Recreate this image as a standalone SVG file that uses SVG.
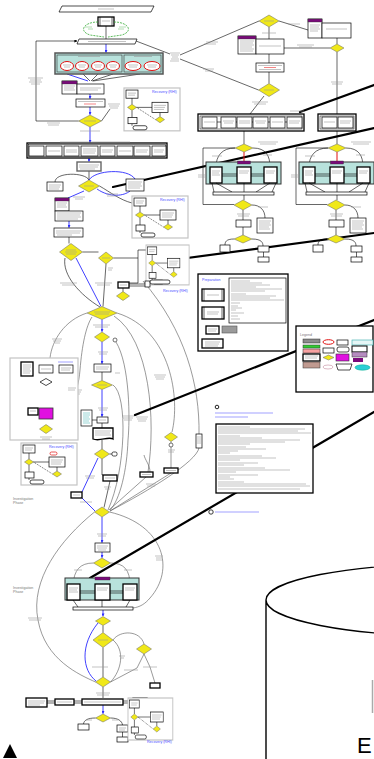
<svg xmlns="http://www.w3.org/2000/svg" xmlns:xlink="http://www.w3.org/1999/xlink" width="374" height="759" viewBox="0 0 374 759">
<style>
.b{fill:#fff;stroke:#000;stroke-width:0.7}
.bb{fill:#fff;stroke:#000;stroke-width:1.3}
.d{fill:#f0e818;stroke:#666;stroke-width:0.5}
.c{fill:none;stroke:#000;stroke-width:0.6}
.bl{fill:none;stroke:#2b2bff;stroke-width:0.9}
.g{fill:none;stroke:#555;stroke-width:0.6}
.tk{fill:none;stroke:#000;stroke-width:2.2;stroke-linecap:round}
.grp{fill:#fff;stroke:#c4c4c4;stroke-width:1.2}
.teal{fill:#b8e2dc;stroke:#333;stroke-width:1}
.pu{fill:#7a0a7a;stroke:#333;stroke-width:0.4}
.tx{fill:none;stroke:#9a9a9a;stroke-width:0.6}
.txb{fill:none;stroke:#7a7aff;stroke-width:0.7}
.red{fill:#fff;stroke:#e01010;stroke-width:1}
.t{font-family:"Liberation Sans",Arial,sans-serif}
.ttl{font-family:"Liberation Sans",Arial,sans-serif;font-size:3.6px;fill:#4a4aff}
.gt{font-family:"Liberation Sans",Arial,sans-serif;font-size:3.6px;fill:#777}
</style>
<defs>
<marker id="ah" markerWidth="3" markerHeight="3" refX="2.6" refY="1.5" orient="auto" markerUnits="userSpaceOnUse"><path d="M0,0 L3,1.5 L0,3 z" fill="#2b2bff"/></marker>
<marker id="ak" markerWidth="3" markerHeight="3" refX="2.6" refY="1.5" orient="auto" markerUnits="userSpaceOnUse"><path d="M0,0 L3,1.5 L0,3 z" fill="#000"/></marker>
<g id="rec">
<rect class="grp" x="0" y="0" width="56" height="42"/>
<rect class="b" x="2" y="2" width="12" height="8"/>
<path class="tx" d="M4,5 H12 M4,7 H11"/>
<path class="c" d="M8,10 V16 M12.5,19 H28 M8,22 V29 M8,35 V37 M36,24 V28"/>
<path class="c" d="M12.5,19 L31.5,31" stroke-dasharray="1,1"/>
<polygon class="d" points="3.5,19 8,16 12.5,19 8,22"/>
<rect class="b" x="28" y="14" width="16" height="10"/>
<path class="tx" d="M30,17 H42 M30,19 H41 M30,21 H40"/>
<rect class="b" x="4" y="29" width="9" height="6"/>
<rect class="b" x="9" y="37" width="14" height="4" rx="2"/>
<polygon class="d" points="31.5,31 36,28 40.5,31 36,34"/>
</g>
<g id="par">
<path class="c" d="M235,148 C222,148 216,156 216,167 M253,148 C266,148 270,156 270,167 M235,148 H203 V204.5 H234"/>
<path d="M244,152 V161" stroke="#e01010" stroke-width="1" fill="none"/>
<rect class="teal" x="206" y="162" width="75" height="22"/>
<rect class="pu" x="237.5" y="161" width="13" height="3"/>
<path class="c" d="M222,174 H237 M222,176 H237 M251,174 H264 M251,176 H264"/>
<rect class="bb" x="210" y="167" width="12" height="16"/>
<rect class="bb" x="237" y="167" width="14" height="16"/>
<rect class="bb" x="264" y="167" width="13" height="16"/>
<path class="tx" d="M212,171 H220 M212,173 H219 M212,175 H220 M239,171 H249 M239,173 H248 M266,171 H275 M266,173 H274"/>
<path class="c" d="M212,183 L214,192 M216,183 L232,192 M244,183 V192 M270,183 L256,192 M276,183 L272,192"/>
<rect class="b" x="213" y="192" width="61" height="3"/>
<path class="c" d="M244,195 V200 M252,205 C260,205 265,210 265,218 M243,210 V220 M243,227 V235 M234,239 C226,239 225,242 225,245 M252,239 C262,239 263,243 263,246 M263.5,252 V257"/>
<polygon class="d" points="235,148 244,144 253,148 244,152"/>
<polygon class="d" points="234,205 243,200 252,205 243,210"/>
<polygon class="d" points="234,239 243,235 252,239 243,243"/>
<rect class="b" x="257" y="218" width="16" height="15"/>
<path class="tx" d="M259,221 H271 M259,223 H270 M259,225 H271 M259,227 H269 M259,229 H270"/>
<rect class="b" x="236" y="220" width="15" height="7"/>
<rect class="b" x="220" y="245" width="10" height="7"/>
<rect class="b" x="258" y="246" width="11" height="6"/>
<rect class="b" x="258" y="257" width="11" height="5"/>
<path class="tx" d="M258,142 H278 M260,144 H276 M212,156 H222 M263,155 H272 M198,175 H206 M198,177 H205 M258,207 H268 M237,214 H250 M238,216 H249"/>
</g>
</defs>
<rect width="374" height="759" fill="#fff"/>

<g id="connectors">
<path class="c" d="M106,26 V39"/>
<path class="c" d="M136,41 L170,54 M180,55 L259,21 M180,59 L258.5,90"/>
<path class="bl" d="M106,44 V52.5" marker-end="url(#ah)"/>
<path class="c" d="M83,74 L90,81 M98,74 L91,81 M113,74 L92,81 M140,74 L93,81"/>
<path class="bl" d="M67,74 L88,81"/>
<path class="bl" d="M90,94 V98.5" marker-end="url(#ah)"/>
<path class="bl" d="M90,107 V114.5" marker-end="url(#ah)"/>
<path class="c" d="M78.5,121 H36 V41 H77" marker-end="url(#ak)"/>
<path class="c" d="M101.5,121 L110,109"/>
<path class="bl" d="M90,127 V142.5" marker-end="url(#ah)"/>
<path class="c" d="M279,21 L308,30 M269,27 V39 M269,54 V63 M269,72 V83.5 M337,38 V44 M337,52 V114 M330,48 H284 M264,96 L250,114 M244,131 V144 M337,131 V144"/>
<path class="bl" d="M89,158 V161.5" marker-end="url(#ah)"/>
<path class="c" d="M89,171 V180 M55,182 C55,172 85,172 89,180 M99.5,186 C110,192 120,200 132,203"/>
<path class="bl" d="M89,180 C95,170 128,168 135,179 M97,189 C110,198 124,196 130,191 M84,191 L68,198"/>
<path class="bl" d="M69,221 V227.5" marker-end="url(#ah)"/>
<path class="c" d="M69,237 V243.5 M82.5,252 H98.5 M138,250 H148 M138,250 V283 H129 M129,284 H145 M129,286 H145 M113.5,258 H138"/>
<path class="c" d="M65,258 C62,275 80,295 100,307 M106,264 L103,306.5"/>
<path class="bl" d="M76,258 L101,306.5"/>
<path class="bl" d="M102,319.5 V331.5" marker-end="url(#ah)"/>
<path class="bl" d="M102,342 V363.5" marker-end="url(#ah)"/>
<path class="c" d="M102,372 V380.5"/>
<path class="bl" d="M102,389.5 V416.5" marker-end="url(#ah)"/>
<path class="c" d="M97,420 H92 M102,423 V428 M102,440 V449"/>
<path class="g" d="M87,313 C65,320 52,340 50,358"/>
<path class="g" d="M52,429 C66,424 78,395 80,370 C82,345 86,326 92,317"/>
<path class="g" d="M116,342 C130,365 130,420 128,440 C127,470 120,500 110,510"/>
<path class="g" d="M114,316 C150,340 156,420 148,472"/>
<path class="g" d="M117,313 C172,330 180,400 172,432"/>
<path class="g" d="M143,281 C185,330 200,385 199,435 M199,448 C196,462 150,490 110,511"/>
<path class="g" d="M113,385 C128,395 126,470 108,510"/>
<path class="g" d="M146,477 L109,510 M171,473 L110,511 M171,441.5 V443 M171,447 V468 M150,472 C150,465 145,460 144,455"/>
<path class="c" d="M46,373 V378.5 M46,385.5 V408 M46,419 V424.5 M33,369 H39 M33,371 H39 M53,369 H59 M38,411 H39 M38,413 H39"/>
<path class="c" d="M109.5,454 H112 M102,459 V475 H103 M110,481 L104,507.5"/>
<path class="bl" d="M98,458 L82,492 M81,497 L95,511"/>
<path class="bl" d="M102,517 V542.5" marker-end="url(#ah)"/>
<path class="bl" d="M102,552 V557.5" marker-end="url(#ah)"/>
<path class="g" d="M109.5,512 C165,525 175,570 150,598 C145,604 140,607 133,608"/>
<path class="g" d="M94.5,512 C60,540 30,580 38,620 C45,660 80,675 95.5,682"/>
<path class="g" d="M93.5,563 C80,563 74,570 73,585 M110.5,563 C124,563 130,570 130,585"/>
<path class="c" d="M73,600 L78,607 M102,600 V607 M130,600 L126,607"/>
<path class="bl" d="M103,610 V616" marker-end="url(#ah)"/>
<path class="c" d="M103,625.5 V632.5 M103,647.5 V677"/>
<path class="bl" d="M98,623 C80,645 82,670 96,681"/>
<path class="g" d="M113,640 C120,630 140,630 144,644 M113,640 C125,650 122,670 110.5,682 M144,654 L137,668 L110.5,682 M144,654 L150,667 L155,683"/>
<path class="c" d="M103,687 V698 M47,701 H55 M47,703 H55 M74,701 H82 M74,703 H82 M123,701 H133 M123,703 H133"/>
<path class="bl" d="M103,705 V713.5" marker-end="url(#ah)"/>
<path class="c" d="M95.5,718 C88,718 84,720 83.5,724 M110.5,718 C118,718 122,721 122.5,725 M122.5,732 V737"/>
<path class="c" d="M213,301 V307 M213,319 V326 M213,334 V339 M219,330 H222"/>
<path class="tk" d="M113,187 L374,128 M300,112 L374,85 M150,263 L374,233 M135,415 L374,320 M90,578 L374,412"/>
</g>

<g id="start"><polygon class="b" points="62,6 154,6 151,12 59,12"/><path class="tx" d="M98,9 H114"/></g>
<g id="box-top"><rect class="bb" x="98" y="17" width="16" height="9"/><path class="c" d="M100,17 V26 M112,17 V26"/><path class="tx" d="M102,21 H110"/></g>
<g id="green-loop"><path d="M98,22 C84,22 78,31 90,35 L104,37 M114,22 C128,22 134,31 122,35 L108,37" fill="none" stroke="#3a3" stroke-width="0.8" stroke-dasharray="2,1"/><path d="M85,27 H92 M88,29 H93 M119,27 H126 M118,29 H124" stroke="#6b6" stroke-width="0.5"/></g>
<g id="p2"><polygon class="b" points="79,39 137,39 135,44 77,44"/><path class="tx" d="M88,41.5 H126"/></g>
<g id="lbl-a"><path class="tx" d="M170,53 H180 M171,55 H179 M172,57 H178 M171,59 H179 M170,61 H179 M206,42 H218 M204,44 H216 M203,69 H214 M205,71 H213"/></g>

<g id="teal-top">
<rect x="55" y="53" width="108" height="21" fill="#b8e2dc" stroke="#555" stroke-width="1.5"/>
<rect x="57" y="55" width="65" height="17" fill="none" stroke="#333" stroke-width="0.6"/>
<rect x="124" y="55" width="37" height="17" fill="none" stroke="#333" stroke-width="0.6"/>
<path class="tx" d="M78,56.5 H100 M134,56.5 H152"/>
<ellipse class="red" cx="67" cy="66" rx="6.5" ry="4.5"/><ellipse class="red" cx="82" cy="66" rx="6.5" ry="4.5"/><ellipse class="red" cx="98" cy="66" rx="6.5" ry="4.5"/><ellipse class="red" cx="113" cy="66" rx="6.5" ry="4.5"/>
<ellipse class="red" cx="133" cy="66" rx="8" ry="4.5"/><ellipse class="red" cx="152" cy="66" rx="8" ry="4.5"/>
<path class="tx" d="M63,65 H71 M64,67 H70 M78,65 H86 M79,67 H85 M94,65 H102 M95,67 H101 M109,65 H117 M110,67 H116 M128,65 H138 M129,67 H137 M147,65 H157 M148,67 H156"/>
</g>
<g id="purple-1"><rect class="b" x="62" y="81" width="15" height="13"/><rect class="pu" x="62" y="81" width="15" height="3"/><rect class="b" x="77" y="84" width="27" height="10"/><path class="tx" d="M64,86 H75 M64,88 H74 M64,90 H75 M80,88 H101 M80,90 H98"/></g>
<g id="box-red-1"><rect class="b" x="76" y="99" width="29" height="8"/><path class="tx" d="M78,101.5 H103"/><path d="M84,104 H96" stroke="#e33" stroke-width="0.6"/></g>
<g id="d1"><polygon class="d" points="78.5,121 90,115 101.5,121 90,127"/><path class="tx" d="M84,121 H96 M28,78 H43 M30,80 H41 M29,82 H42 M31,84 H40 M47,123 H60 M48,125 H59 M80,131 H100 M108,104 H120 M109,106 H119 M110,108 H118"/></g>
<g id="rec-1"><use xlink:href="#rec" transform="translate(124,88) scale(1,1.02)"/><text class="ttl" x="152" y="92.5">Recovery (RHI)</text></g>

<g id="d-tr1"><polygon class="d" points="259,21 269,15 279,21 269,27"/><path class="tx" d="M264,21 H274 M288,24 H300 M262,33 H276"/></g>
<g id="purple-tr"><rect class="b" x="308" y="19" width="14" height="19"/><rect class="pu" x="308" y="19" width="14" height="3"/><rect class="b" x="322" y="23" width="29" height="15"/><path class="tx" d="M310,25 H320 M310,27 H319 M310,29 H320 M310,31 H318 M326,29 H347"/></g>
<g id="d-tr2"><polygon class="d" points="330,48 337,44 344,48 337,52"/><path class="tx" d="M331,82 H343 M332,84 H342 M297,45 H314 M299,47 H312"/></g>
<g id="purple-tm"><rect class="b" x="238" y="36" width="18" height="18"/><rect class="pu" x="238" y="36" width="18" height="3"/><rect class="b" x="256" y="39" width="28" height="15"/><path class="tx" d="M240,41 H254 M240,43 H253 M240,45 H254 M240,47 H252 M240,49 H254 M240,51 H253 M259,46 H281"/></g>
<g id="box-red-2"><rect class="b" x="256" y="63" width="28" height="9"/><path class="tx" d="M258,65.5 H282 M259,69.5 H281"/><path d="M264,67.5 H276" stroke="#e33" stroke-width="0.6"/></g>
<g id="d-tr3"><polygon class="d" points="258.5,90 269,83.5 279.5,90 269,96.5"/><path class="tx" d="M264,90 H274 M252,102 H268 M254,104 H266"/></g>
<g id="row-1"><rect class="bb" x="198" y="114" width="106" height="17"/><rect fill="none" stroke="#000" stroke-width="0.5" x="200" y="116" width="102" height="13"/>
<path class="c" d="M217,122 H221 M236,122 H237 M252,122 H253 M268,122 H270 M285,122 H287"/>
<rect class="b" x="202" y="117" width="15" height="11"/><rect class="b" x="221" y="117" width="15" height="11"/><rect class="b" x="237" y="117" width="15" height="11"/><rect class="b" x="253" y="117" width="15" height="11"/><rect class="b" x="270" y="117" width="15" height="11"/><rect class="b" x="287" y="117" width="15" height="11"/>
<path class="tx" d="M204,122 H215 M223,121 H234 M224,123 H233 M239,121 H250 M239,123 H250 M255,121 H266 M256,123 H265 M272,122 H283 M289,121 H300 M289,123 H299 M290,111 H304"/></g>
<g id="row-2"><rect class="bb" x="318" y="114" width="38" height="17"/><rect fill="none" stroke="#000" stroke-width="0.5" x="320" y="116" width="34" height="13"/><rect class="b" x="322" y="117" width="15" height="11"/><rect class="b" x="338" y="117" width="15" height="11"/><path class="tx" d="M324,122 H335 M340,121 H351 M340,123 H350"/></g>

<g id="inv-a"><use xlink:href="#par"/></g>
<g id="inv-b"><use xlink:href="#par" transform="translate(93,0)"/></g>

<g id="row-3"><rect class="bb" x="27" y="143" width="140" height="15"/><rect fill="none" stroke="#000" stroke-width="0.5" x="28.5" y="144.5" width="137" height="12"/>
<rect class="b" x="29" y="146" width="15" height="10"/><rect class="b" x="46" y="146" width="16" height="10"/><rect class="b" x="64" y="146" width="15" height="10"/><rect class="b" x="81" y="146" width="17" height="10"/><rect class="b" x="100" y="146" width="15" height="10"/><rect class="b" x="117" y="146" width="16" height="10"/><rect class="b" x="134" y="146" width="16" height="10"/><rect class="b" x="152" y="146" width="14" height="10"/>
<path class="tx" d="M48,151 H60 M66,150 H77 M66,152 H77 M83,149 H96 M83,151 H96 M83,153 H95 M102,150 H113 M102,152 H112 M119,151 H131 M136,150 H148 M136,152 H147 M154,150 H164 M154,152 H163 M60,142 H130"/></g>
<g id="box-gray"><rect fill="#fff" stroke="#666" stroke-width="1.4" x="77" y="162" width="24" height="9"/><path class="tx" d="M79,165 H99 M79,167 H98 M80,169 H95"/></g>
<g id="d5"><polygon class="d" points="78.5,186 89,180 99.5,186 89,192"/><path class="tx" d="M84,186 H94 M73,197 H85 M75,199 H83 M106,194 H118 M107,196 H117"/></g>
<g id="box-l5"><rect class="b" x="47" y="182" width="16" height="9"/><path class="tx" d="M49,185 H61 M49,187 H60 M49,189 H59"/></g>
<g id="box-r5"><rect class="b" x="126" y="179" width="18" height="12"/><path class="tx" d="M128,182 H142 M128,184 H141 M128,186 H142 M128,188 H140"/></g>
<g id="rec-2"><use xlink:href="#rec" transform="translate(132,196)"/><text class="ttl" x="160" y="201">Recovery (RHI)</text></g>
<g id="purple-2"><rect class="b" x="55" y="198" width="14" height="13"/><rect class="pu" x="55" y="198" width="14" height="3"/><rect class="b" x="55" y="211" width="28" height="10"/><path class="tx" d="M57,203 H67 M57,205 H66 M57,207 H67 M57,213 H81 M57,215 H80 M57,217 H81 M57,219 H78"/></g>
<g id="box-6"><rect class="b" x="54" y="228" width="29" height="9"/><path class="tx" d="M56,231 H81 M56,233 H80 M57,235 H72"/></g>
<g id="d6"><polygon class="d" points="59.5,252 71,243.5 82.5,252 71,260.5"/><path class="tx" d="M66,250 H76 M65,252 H77 M66,254 H76"/></g>
<g id="d7"><polygon class="d" points="98.5,258 106,252 113.5,258 106,264"/><path class="tx" d="M102,258 H110 M108,268 H113 M108,270 H112"/></g>
<g id="rec-3"><use xlink:href="#rec" transform="translate(146,245) scale(0.77,0.95)"/><text class="ttl" x="163" y="292">Recovery (RHI)</text></g>
<g id="box-7"><rect class="bb" x="118" y="282" width="11" height="6"/><rect class="b" x="145" y="281" width="5" height="6"/><rect class="b" x="150" y="280" width="20" height="4" rx="2"/><path class="tx" d="M120,285 H127"/></g>
<g id="d14"><polygon class="d" points="116.5,296 123,291.5 129.5,296 123,300.5"/><path class="c" d="M123,288 V291.5"/></g>
<g id="lbl-b"><path class="tx" d="M60,283 H77 M62,285 H75 M95,283 H112 M97,285 H110"/></g>
<g id="d15"><polygon class="d" points="87,313 102,306.5 117,313 102,319.5"/><path class="tx" d="M94,312 H110 M95,314 H109 M93,325 H110 M95,327 H108"/></g>
<g id="d16"><polygon class="d" points="94.5,337 102,332 109.5,337 102,342"/><circle cx="115" cy="340" r="2" fill="#fff" stroke="#333" stroke-width="0.7"/><path class="tx" d="M98,352 H108 M99,354 H107"/></g>
<g id="box-8"><rect class="b" x="94" y="364" width="17" height="8"/><path class="tx" d="M96,367 H109 M96,369 H108"/></g>
<g id="d17"><polygon class="d" points="91.5,385 102,380.5 112.5,385 102,389.5"/><path class="tx" d="M97,385 H107 M98,408 H108 M99,410 H107"/></g>
<g id="box-9"><rect class="b" x="97" y="417" width="11" height="6"/><path class="tx" d="M99,420 H106"/></g>
<g id="box-teal-text"><rect class="b" x="81" y="410" width="11" height="16"/><path d="M83,413 H90 M83,415 H90 M83,417 H89 M83,419 H90 M83,421 H89 M83,423 H90" stroke="#3aa" stroke-width="0.5"/></g>
<g id="doc-1"><path class="bb" d="M93,428 H113 V439 C108,436 100,442 93,439 Z"/><path class="tx" d="M95,431 H111 M95,433 H110 M95,435 H111"/></g>
<g id="lbl-c"><path class="tx" d="M52,339 H62 M53,341 H61 M55,343 H60 M154,375 H166 M155,377 H165 M156,379 H164 M122,416 H134 M123,418 H133 M124,420 H132 M136,417 H148 M137,419 H147 M138,421 H146 M115,373 H120 M72,390 H82 M73,392 H81 M74,394 H80"/></g>

<g id="jem"><rect class="grp" x="10" y="358" width="68" height="82"/><path class="txb" d="M58,362 H73"/>
<rect class="bb" x="21" y="362" width="12" height="14"/><path class="tx" d="M23,365 H31 M23,367 H31 M23,369 H30 M23,371 H31 M23,373 H30"/>
<rect class="b" x="39" y="365" width="14" height="8"/><path class="tx" d="M41,369 H51"/>
<rect class="b" x="59" y="365" width="14" height="8"/><path class="tx" d="M61,368 H71 M61,370 H70"/>
<polygon class="b" points="40,382 46,378.5 52,382 46,385.5"/>
<rect x="39" y="408" width="14" height="11" fill="#e010e0" stroke="#333" stroke-width="0.8"/>
<rect class="bb" x="28" y="408" width="10" height="7"/><path class="tx" d="M30,411 H36"/>
<polygon class="d" points="39.5,429 46,424.5 52.5,429 46,433.5"/>
<path class="tx" d="M40,437 H52 M42,439 H50 M68,388 H76 M68,390 H75"/></g>
<g id="rec-4"><use xlink:href="#rec" transform="translate(21,443)"/><text class="ttl" x="49" y="448">Recovery (RHI)</text><rect x="50" y="452" width="7" height="3" rx="1.5" fill="#fff" stroke="#e01010" stroke-width="0.7"/></g>

<g id="d20"><polygon class="d" points="94.5,454 102,449 109.5,454 102,459"/><rect class="b" x="112" y="452" width="5" height="4" rx="1.5"/><path class="tx" d="M85,476 H95 M86,478 H94"/></g>
<g id="box-10"><rect class="bb" x="71" y="492" width="11" height="6"/><path class="tx" d="M73,495 H80 M80,502 H92"/></g>
<g id="box-11"><rect class="bb" x="103" y="475" width="14" height="6"/><path class="tx" d="M105,478 H115 M104,487 H111 M105,489 H110"/></g>
<g id="d21"><polygon class="d" points="164.5,437 171,432.5 177.5,437 171,441.5"/><circle cx="171" cy="445" r="2" fill="#fff" stroke="#333" stroke-width="0.7"/><path class="tx" d="M168,450 H175 M168,452 H174"/></g>
<g id="box-12"><rect class="bb" x="140" y="472" width="13" height="5"/><rect class="bb" x="164" y="468" width="14" height="5"/><path class="tx" d="M142,474.5 H151 M166,470.5 H176 M146,484 H156 M147,486 H155"/></g>
<g id="box-13"><rect class="b" x="196" y="434" width="6" height="14" stroke="#888"/><path class="tx" d="M197,437 H201 M197,439 H201 M197,441 H201 M197,443 H201"/></g>
<g id="d22"><polygon class="d" points="94.5,512 102,507 109.5,512 102,517"/><path class="tx" d="M97,534 H107 M98,536 H106"/></g>
<g id="inv-text-1"><text class="gt" x="13" y="500">Investigation</text><text class="gt" x="13" y="504">Phase</text></g>
<g id="box-14"><rect class="b" x="95" y="543" width="15" height="9"/><path class="tx" d="M97,546 H108 M97,548 H107 M98,550 H106"/></g>
<g id="d23"><polygon class="d" points="93.5,563 102,558 110.5,563 102,568"/><path class="tx" d="M155,556 H163 M156,558 H162 M156,560 H163 M74,570 H82 M124,570 H132"/></g>
<g id="inv-text-2"><text class="gt" x="13" y="589">Investigation</text><text class="gt" x="13" y="593">Phase</text></g>
<g id="teal-bottom"><rect class="teal" x="65" y="578" width="74" height="22"/><rect class="pu" x="95" y="577" width="15" height="3"/>
<path class="c" d="M80,591 H95 M80,593 H95 M110,591 H123 M110,593 H123"/>
<rect class="bb" x="67" y="584" width="13" height="16"/><rect class="bb" x="95" y="584" width="15" height="16"/><rect class="bb" x="123" y="584" width="14" height="16"/>
<path class="tx" d="M69,588 H78 M69,590 H77 M69,592 H78 M97,588 H108 M97,590 H107 M125,588 H135 M125,590 H134"/></g>
<g id="bar-bottom"><rect class="b" x="73" y="607" width="60" height="3"/><path class="tx" d="M28,618 H42 M29,620 H41"/></g>
<g id="d24"><polygon class="d" points="95.5,621 103,616.5 110.5,621 103,625.5"/></g>
<g id="d25"><polygon class="d" points="93,640 103,632.5 113,640 103,647.5"/><path class="tx" d="M98,640 H108 M92,667 H108 M119,656 H125 M120,658 H124"/></g>
<g id="d26"><polygon class="d" points="136.5,649 144,644 151.5,649 144,654"/><path class="tx" d="M124,670 H138 M143,667 H157"/></g>
<g id="box-15"><rect class="bb" x="150" y="683" width="10" height="5"/></g>
<g id="d27"><polygon class="d" points="95.5,682 103,677 110.5,682 103,687"/><path class="tx" d="M96,693 H110 M97,695 H109"/></g>
<g id="row-4"><rect class="bb" x="26" y="698" width="21" height="9"/><rect class="bb" x="55" y="699" width="19" height="6"/><rect class="bb" x="82" y="699" width="41" height="6"/><rect class="bb" x="133" y="698" width="14" height="8"/>
<path class="tx" d="M28,701 H45 M28,703 H44 M28,705 H40 M57,702 H72 M84,702 H121 M135,701 H145 M135,703 H144"/></g>
<g id="d28"><polygon class="d" points="95.5,718 103,714 110.5,718 103,722"/><path class="tx" d="M86,720 H92 M112,720 H118"/></g>
<g id="box-16"><rect class="b" x="78" y="724" width="11" height="6"/><rect class="b" x="117" y="725" width="11" height="7"/><rect class="b" x="117" y="737" width="11" height="5"/><path class="tx" d="M119,728 H126 M119,730 H125"/></g>
<g id="rec-5"><use xlink:href="#rec" transform="translate(128,698) scale(0.8,1)"/><text class="ttl" x="147" y="743">Recovery (RHI)</text></g>

<g id="preparation"><rect class="bb" x="198" y="274" width="90" height="77"/><text class="ttl" x="202" y="281">Preparation</text>
<rect class="b" x="229" y="278" width="57" height="45"/>
<path class="tx" d="M231,281 H250 M231,283 H262 M231,285 H270 M231,287 H256 M231,289 H282 M231,291 H265 M231,294 H246 M231,296 H276 M231,298 H270 M231,300 H284 M231,303 H240 M231,306 H238 M231,308 H242 M231,310 H236 M231,313 H244 M231,316 H238 M231,319 H240"/>
<rect class="bb" x="202" y="289" width="22" height="12"/><path class="c" d="M204,289 V301 M222,289 V301"/><path class="tx" d="M207,295 H219"/>
<rect class="bb" x="202" y="307" width="22" height="12"/><path class="c" d="M204,307 V319 M222,307 V319"/><path class="tx" d="M207,312 H219 M207,314 H218"/>
<rect class="bb" x="206" y="326" width="13" height="8"/><path class="tx" d="M208,329 H217 M208,331 H216"/>
<rect x="222" y="326" width="15" height="7" fill="#9a9a9a" stroke="#555" stroke-width="0.6"/>
<rect class="bb" x="202" y="339" width="21" height="9"/><path class="tx" d="M205,342 H220 M205,344 H219 M205,346 H218"/></g>

<g id="legend"><rect class="bb" x="296" y="326" width="77" height="66"/><text class="gt" x="300" y="336" font-size="4">Legend</text>
<rect x="303" y="339" width="17" height="4" fill="#888" stroke="#333" stroke-width="0.5"/>
<rect x="303" y="345" width="17" height="3" fill="#3c3" stroke="#333" stroke-width="0.5"/>
<rect x="303" y="349" width="17" height="4" fill="#f7a0a0" stroke="#333" stroke-width="0.5"/>
<rect class="bb" x="303" y="354" width="17" height="7"/>
<rect x="303" y="362" width="17" height="6" fill="#c09a90" stroke="#333" stroke-width="0.5"/>
<ellipse class="red" cx="328.5" cy="342" rx="5.5" ry="2.3"/>
<rect class="b" x="323" y="348" width="11" height="5"/>
<polygon class="d" points="323,357.5 328.5,355 334,357.5 328.5,360"/>
<ellipse cx="328" cy="367" rx="5" ry="2" fill="#fff" stroke="#c9a" stroke-width="0.7"/>
<rect class="b" x="337" y="340" width="11" height="5" fill="#ccc"/>
<rect class="b" x="337" y="347" width="12" height="5" rx="2"/>
<rect x="336" y="354" width="13" height="7" fill="#e010e0" stroke="#333" stroke-width="0.6"/>
<polygon class="b" points="336,364 352,364 350,370 338,370"/>
<rect x="352" y="340" width="21" height="5" fill="#e6f6f6" stroke="#3aa" stroke-width="0.6"/>
<rect x="352" y="346" width="15" height="6" fill="#fff" stroke="#000" stroke-width="1"/>
<rect x="352" y="352" width="15" height="5" fill="#b68cc0" stroke="#333" stroke-width="0.5"/>
<rect x="353" y="358" width="10" height="4" fill="#7a0a7a"/>
<ellipse cx="362.5" cy="367.5" rx="7.5" ry="2.7" fill="#2ccfd6" stroke="#0a8" stroke-width="0.5"/>
<path class="tx" d="M305,341 H318 M305,356 H318 M305,358 H317"/></g>

<g id="note-1"><circle cx="217" cy="407" r="1.8" fill="#fff" stroke="#222" stroke-width="1"/><path class="txb" d="M215,413 H273 M215,417 H248"/></g>
<g id="text-box"><rect class="bb" x="216" y="424" width="97" height="69"/>
<path class="tx" d="M218,427 H250 M218,429 H305 M218,431 H298 M218,433 H311 M218,436 H240 M218,438 H262 M218,440 H300 M218,442 H285 M218,444 H250 M218,447 H246 M218,449 H266 M218,451 H238 M218,453 H230 M218,456 H262 M218,458 H276 M218,460 H240 M218,463 H258 M218,465 H244 M218,468 H265 M218,470 H290 M218,472 H236 M218,475 H258 M218,477 H230 M218,479 H234 M218,482 H244 M218,484 H306 M218,486 H310 M218,489 H300"/></g>
<g id="note-2"><circle cx="211" cy="512" r="2.2" fill="#fff" stroke="#222" stroke-width="0.9"/><path class="txb" d="M215,512 H259"/></g>

<g id="cylinder"><path d="M266,759 V600 A185,36 0 0 1 636,600 M266,600 A185,36 0 0 0 636,600" fill="none" stroke="#000" stroke-width="1.4"/>
<path d="M372.5,680 V713" stroke="#aaa" stroke-width="1.5"/>
<text class="t" x="357" y="753" font-size="22" fill="#000">E</text></g>
<g id="triangle"><polygon points="3,758 10,744 17,758" fill="#000"/></g>
</svg>
